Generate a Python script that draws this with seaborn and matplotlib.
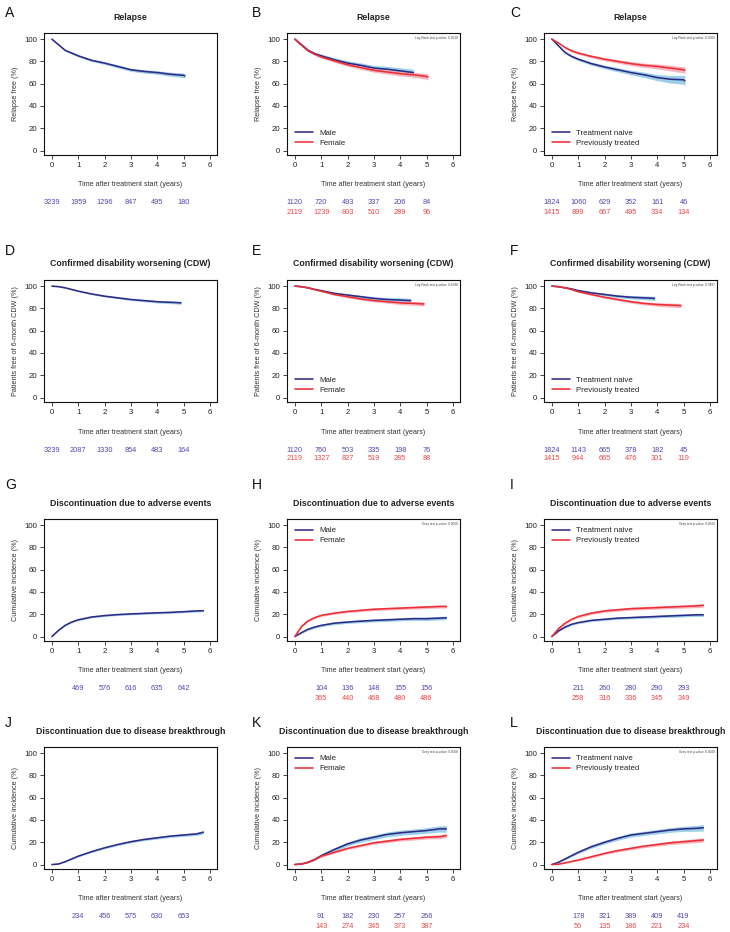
import matplotlib
matplotlib.use("Agg")
import matplotlib.pyplot as plt
from matplotlib.lines import Line2D
import pandas as pd
import seaborn as sns

sns.set_theme(style="white")
plt.rcParams['font.family'] = ['Liberation Sans', 'DejaVu Sans']

# ---- time grids (years) ----
t_rel = [0, 0.25, 0.5, 0.75, 1, 1.5, 2, 2.5, 3, 3.5, 4, 4.5, 5, 5.05]
t_rel_male = [0, 0.25, 0.5, 0.75, 1, 1.5, 2, 2.5, 3, 3.5, 4, 4.5]
t_cdw = [0, 0.25, 0.5, 0.75, 1, 1.5, 2, 2.5, 3, 3.5, 4, 4.5, 4.9]
t_cdw_male = [0, 0.25, 0.5, 0.75, 1, 1.5, 2, 2.5, 3, 3.5, 4, 4.4]
t_cdw_naive = [0, 0.25, 0.5, 0.75, 1, 1.5, 2, 2.5, 3, 3.5, 3.9]
t_disc = [0, 0.25, 0.5, 0.75, 1, 1.5, 2, 2.5, 3, 3.5, 4, 4.5, 5, 5.5, 5.75]

# ---- Relapse ----
a_all = [100, 95, 90, 87.5, 85, 81, 78.5, 75.5, 72.5, 71, 70, 68.5, 67.5, 67]
a_all_ci = [0, 0.5, 0.8, 0.9, 1, 1.1, 1.2, 1.3, 1.4, 1.5, 1.6, 1.8, 2, 2.1]
b_male = [100, 95, 90, 87, 85, 81.5, 78.5, 76.5, 74, 73, 71.5, 70]
b_male_ci = [0, 0.8, 1.2, 1.4, 1.6, 1.8, 2, 2.2, 2.4, 2.6, 2.8, 3]
b_female = [100, 94.5, 89.5, 86.5, 84, 80.5, 77, 74.5, 72, 70.5, 69, 68, 66.5, 66]
b_female_ci = [0, 0.6, 0.9, 1, 1.1, 1.3, 1.4, 1.6, 1.7, 1.9, 2, 2.3, 2.6, 2.8]
c_naive = [100, 94, 88, 84.5, 82, 78, 75, 72.5, 70, 68, 65.5, 64, 63.5, 62.5]
c_naive_ci = [0, 0.6, 0.9, 1.1, 1.2, 1.4, 1.6, 1.8, 2.1, 2.4, 2.8, 3.4, 4, 4.5]
c_prev = [100, 96.5, 92.5, 89.5, 87.5, 84.5, 82, 80, 78, 76.5, 75.5, 74, 72.5, 72]
c_prev_ci = [0, 0.5, 0.8, 1, 1.1, 1.3, 1.4, 1.6, 1.8, 2, 2.2, 2.5, 2.8, 3]

# ---- CDW ----
d_all = [100, 99.5, 98.5, 97, 95.5, 93, 91, 89.5, 88, 87, 86, 85.5, 85]
d_all_ci = [0, 0.1, 0.3, 0.4, 0.5, 0.6, 0.7, 0.8, 0.9, 1, 1.1, 1.2, 1.3]
e_male = [100, 99.5, 98.5, 97, 96, 93.5, 92, 90.5, 89, 88, 87.5, 87]
e_male_ci = [0, 0.2, 0.4, 0.6, 0.7, 0.9, 1.1, 1.3, 1.5, 1.7, 1.9, 2]
e_female = [100, 99.5, 98.5, 97, 95.5, 92.5, 90.5, 88.5, 87, 86, 85, 84.5, 84]
e_female_ci = [0, 0.2, 0.3, 0.5, 0.6, 0.7, 0.9, 1, 1.1, 1.3, 1.5, 1.7, 1.9]
f_naive = [100, 99.5, 98.5, 97.5, 96, 94, 92.5, 91, 90, 89.5, 89]
f_naive_ci = [0, 0.2, 0.4, 0.5, 0.7, 0.9, 1.1, 1.3, 1.5, 1.7, 1.9]
f_prev = [100, 99.5, 98.5, 97, 95, 92.5, 90, 88, 86, 84.5, 83.5, 83, 82.5]
f_prev_ci = [0, 0.2, 0.3, 0.5, 0.6, 0.8, 0.9, 1.1, 1.2, 1.4, 1.6, 1.8, 2]

# ---- Discontinuation due to adverse events ----
g_all = [0, 5.5, 10, 13, 15, 17.5, 18.8, 19.7, 20.3, 20.8, 21.3, 21.7, 22.3, 23, 23.2]
g_all_ci = [0, 0.4, 0.6, 0.6, 0.7, 0.7, 0.8, 0.8, 0.8, 0.8, 0.9, 0.9, 0.9, 1, 1]
h_male = [0, 3.5, 6.5, 8.5, 10, 12, 13, 13.8, 14.5, 15, 15.5, 16, 16, 16.5, 16.8]
h_male_ci = [0, 0.6, 0.9, 1, 1.1, 1.2, 1.2, 1.3, 1.3, 1.4, 1.4, 1.5, 1.5, 1.6, 1.6]
h_female = [0, 9, 14, 17, 19, 21, 22.5, 23.5, 24.5, 25, 25.5, 26, 26.5, 27, 27]
h_female_ci = [0, 0.6, 0.8, 0.9, 1, 1, 1.1, 1.1, 1.2, 1.2, 1.2, 1.3, 1.3, 1.4, 1.4]
i_naive = [0, 5, 8.5, 11, 12.5, 14.5, 15.5, 16.5, 17, 17.5, 18, 18.5, 19, 19.5, 19.5]
i_naive_ci = [0, 0.5, 0.7, 0.8, 0.9, 1, 1, 1.1, 1.1, 1.2, 1.2, 1.3, 1.3, 1.4, 1.4]
i_prev = [0, 7, 12, 15.5, 18, 21, 23, 24, 25, 25.5, 26, 26.5, 27, 27.5, 28]
i_prev_ci = [0, 0.6, 0.9, 1, 1.1, 1.2, 1.2, 1.3, 1.3, 1.4, 1.4, 1.5, 1.5, 1.6, 1.6]

# ---- Discontinuation due to disease breakthrough ----
j_all = [0, 0.5, 2.5, 5, 7.5, 11.5, 15, 18, 20.5, 22.5, 24, 25.5, 26.5, 27.5, 29]
j_all_ci = [0, 0.2, 0.3, 0.5, 0.6, 0.7, 0.8, 0.9, 1, 1, 1.1, 1.1, 1.2, 1.3, 1.5]
k_male = [0, 0.5, 2, 4.5, 8, 13.5, 18.5, 22, 24.5, 27, 28.5, 29.5, 30.5, 32, 32]
k_male_ci = [0, 0.3, 0.6, 1, 1.3, 1.6, 1.8, 2, 2.1, 2.2, 2.3, 2.4, 2.5, 2.8, 3]
k_female = [0, 0.5, 2, 4.5, 7.5, 11, 14.5, 17, 19.5, 21, 22.5, 23.5, 24.5, 25, 26]
k_female_ci = [0, 0.2, 0.4, 0.6, 0.8, 1, 1.1, 1.2, 1.3, 1.4, 1.4, 1.5, 1.6, 1.7, 1.8]
l_naive = [0, 2, 5, 8, 11, 16, 20, 23.5, 26.5, 28, 29.5, 31, 32, 32.5, 33]
l_naive_ci = [0, 0.4, 0.7, 1, 1.2, 1.4, 1.6, 1.7, 1.8, 1.9, 2, 2.1, 2.3, 2.6, 3]
l_prev = [0, 0.3, 1.5, 2.8, 4, 7, 10, 12.5, 14.5, 16.5, 18, 19.5, 20.5, 21.5, 22]
l_prev_ci = [0, 0.2, 0.4, 0.6, 0.8, 1, 1.1, 1.2, 1.3, 1.4, 1.5, 1.6, 1.7, 1.8, 2]

# ---- numbers at risk / events ----
risk_x_km = [0, 1, 2, 3, 4, 5]
risk_x_ci = [1, 2, 3, 4, 5]
a_risk = [3239, 1959, 1296, 847, 495, 180]
b_risk_male = [1120, 720, 493, 337, 206, 84]
b_risk_female = [2119, 1239, 803, 510, 289, 96]
c_risk_naive = [1824, 1060, 629, 352, 161, 46]
c_risk_prev = [1415, 899, 667, 495, 334, 134]
d_risk = [3239, 2087, 1330, 854, 483, 164]
e_risk_male = [1120, 760, 503, 335, 198, 76]
e_risk_female = [2119, 1327, 827, 519, 285, 88]
f_risk_naive = [1824, 1143, 665, 378, 182, 45]
f_risk_prev = [1415, 944, 665, 476, 301, 119]
g_risk = [469, 576, 616, 635, 642]
h_risk_male = [104, 136, 148, 155, 156]
h_risk_female = [365, 440, 468, 480, 486]
i_risk_naive = [211, 260, 280, 290, 293]
i_risk_prev = [258, 316, 336, 345, 349]
j_risk = [234, 456, 575, 630, 653]
k_risk_male = [91, 182, 230, 257, 266]
k_risk_female = [143, 274, 345, 373, 387]
l_risk_naive = [178, 321, 389, 409, 419]
l_risk_prev = [56, 135, 186, 221, 234]

titles = ["Relapse", "Confirmed disability worsening (CDW)",
          "Discontinuation due to adverse events",
          "Discontinuation due to disease breakthrough"]
ylabels = ["Relapse free (%)", "Patients free of 6-month CDW (%)",
           "Cumulative incidence (%)", "Cumulative incidence (%)"]
pvals = {"B": "Log-Rank test p-value: 0.3018", "C": "Log-Rank test p-value: 0.0000",
         "E": "Log-Rank test p-value: 0.4788", "F": "Log-Rank test p-value: 0.3487",
         "H": "Gray test p-value: 0.0000", "I": "Gray test p-value: 0.0000",
         "K": "Gray test p-value: 0.0006", "L": "Gray test p-value: 0.0000"}

BLUE, BLUE_BAND, BLUE_TXT = "#2D2A88", "#8CC8E2", "#5246AE"
RED, RED_BAND, RED_TXT = "#EE2E35", "#F6A9B4", "#EE4646"

W, H = 730, 932
col_left = [44, 287, 544]
row_top = [33, 280, 519, 747]
ax_w, ax_h = 173, 122
letter_x = [5, 252, 510]
letter_y = [13, 251, 485, 723]

# panels: letter, row, col, curves (t, y, ci, colour, label), risk rows, risk x, legend loc
panels = [
    ("A", 0, 0, [(t_rel, a_all, a_all_ci, "blue", None)], [a_risk], risk_x_km, None),
    ("B", 0, 1, [(t_rel_male, b_male, b_male_ci, "blue", "Male"),
                 (t_rel, b_female, b_female_ci, "red", "Female")],
     [b_risk_male, b_risk_female], risk_x_km, "lower left"),
    ("C", 0, 2, [(t_rel, c_naive, c_naive_ci, "blue", "Treatment naive"),
                 (t_rel, c_prev, c_prev_ci, "red", "Previously treated")],
     [c_risk_naive, c_risk_prev], risk_x_km, "lower left"),
    ("D", 1, 0, [(t_cdw, d_all, d_all_ci, "blue", None)], [d_risk], risk_x_km, None),
    ("E", 1, 1, [(t_cdw_male, e_male, e_male_ci, "blue", "Male"),
                 (t_cdw, e_female, e_female_ci, "red", "Female")],
     [e_risk_male, e_risk_female], risk_x_km, "lower left"),
    ("F", 1, 2, [(t_cdw_naive, f_naive, f_naive_ci, "blue", "Treatment naive"),
                 (t_cdw, f_prev, f_prev_ci, "red", "Previously treated")],
     [f_risk_naive, f_risk_prev], risk_x_km, "lower left"),
    ("G", 2, 0, [(t_disc, g_all, g_all_ci, "blue", None)], [g_risk], risk_x_ci, None),
    ("H", 2, 1, [(t_disc, h_male, h_male_ci, "blue", "Male"),
                 (t_disc, h_female, h_female_ci, "red", "Female")],
     [h_risk_male, h_risk_female], risk_x_ci, "upper left"),
    ("I", 2, 2, [(t_disc, i_naive, i_naive_ci, "blue", "Treatment naive"),
                 (t_disc, i_prev, i_prev_ci, "red", "Previously treated")],
     [i_risk_naive, i_risk_prev], risk_x_ci, "upper left"),
    ("J", 3, 0, [(t_disc, j_all, j_all_ci, "blue", None)], [j_risk], risk_x_ci, None),
    ("K", 3, 1, [(t_disc, k_male, k_male_ci, "blue", "Male"),
                 (t_disc, k_female, k_female_ci, "red", "Female")],
     [k_risk_male, k_risk_female], risk_x_ci, "upper left"),
    ("L", 3, 2, [(t_disc, l_naive, l_naive_ci, "blue", "Treatment naive"),
                 (t_disc, l_prev, l_prev_ci, "red", "Previously treated")],
     [l_risk_naive, l_risk_prev], risk_x_ci, "upper left"),
]

colours = {"blue": (BLUE, BLUE_BAND, BLUE_TXT), "red": (RED, RED_BAND, RED_TXT)}

fig = plt.figure(figsize=(W / 100, H / 100), dpi=100)
fig.patch.set_facecolor("white")

for letter, r, c, curves, risks, risk_x, leg_loc in panels:
    left, top = col_left[c], row_top[r]
    ax = fig.add_axes([left / W, 1 - (top + ax_h) / H, ax_w / W, ax_h / H])

    rows = []
    for t, y, ci, col, lab in curves:
        rows.append(pd.DataFrame({"time": t, "value": y, "group": col}))
    df = pd.concat(rows, ignore_index=True)

    # confidence bands first, then the curves on top
    for t, y, ci, col, lab in curves:
        lo = [v - e for v, e in zip(y, ci)]
        hi = [v + e for v, e in zip(y, ci)]
        ax.fill_between(t, lo, hi, color=colours[col][1], lw=0, alpha=0.85)
    sns.lineplot(data=df, x="time", y="value", hue="group",
                 palette={k: v[0] for k, v in colours.items()},
                 estimator=None, errorbar=None, legend=False, lw=1.15, ax=ax)

    ax.set_xlim(-0.3, 6.27)
    ax.set_ylim(-4, 105.5)
    ax.set_xticks(range(7))
    ax.set_yticks(range(0, 101, 20))
    ax.tick_params(direction="out", length=3, width=0.6, labelsize=5.6, pad=2,
                   colors="#222222", bottom=True, left=True)
    for s in ax.spines.values():
        s.set_color("#111111")
        s.set_linewidth(0.8)
    ax.set_xlabel("")
    ax.set_ylabel(ylabels[r], fontsize=5.2, color="#333333", labelpad=4)

    ax.annotate(titles[r], xy=(0.5, 1), xycoords="axes fraction", xytext=(0, 16),
                textcoords="offset pixels", ha="center", va="center",
                fontsize=6.3, fontweight="bold", color="#222222")
    ax.annotate("Time after treatment start (years)", xy=(0.5, 0), xycoords="axes fraction",
                xytext=(0, -30), textcoords="offset pixels", ha="center", va="center",
                fontsize=5.1, color="#333333")

    for k, vals in enumerate(risks):
        col = curves[k][3]
        for x, v in zip(risk_x, vals):
            ax.annotate(str(v), xy=(x, 0), xycoords=("data", "axes fraction"),
                        xytext=(0, -48 - 9 * k), textcoords="offset pixels",
                        ha="center", va="center", fontsize=5.3, color=colours[col][2])

    if leg_loc:
        handles = [Line2D([], [], color=colours[cv[3]][0], lw=1.15) for cv in curves]
        ax.legend(handles, [cv[4] for cv in curves], loc=leg_loc, frameon=False,
                  fontsize=5.7, handlelength=2.3, handletextpad=0.8,
                  labelspacing=0.3, borderaxespad=0.6)

    if letter in pvals:
        ax.text(0.985, 0.975, pvals[letter], transform=ax.transAxes, ha="right",
                va="top", fontsize=2.3, color="#444444")

    fig.text(letter_x[c] / W, 1 - letter_y[r] / H, letter, fontsize=10,
             ha="left", va="center", color="#111111")

fig.savefig("out.png", dpi=100, facecolor="white")
